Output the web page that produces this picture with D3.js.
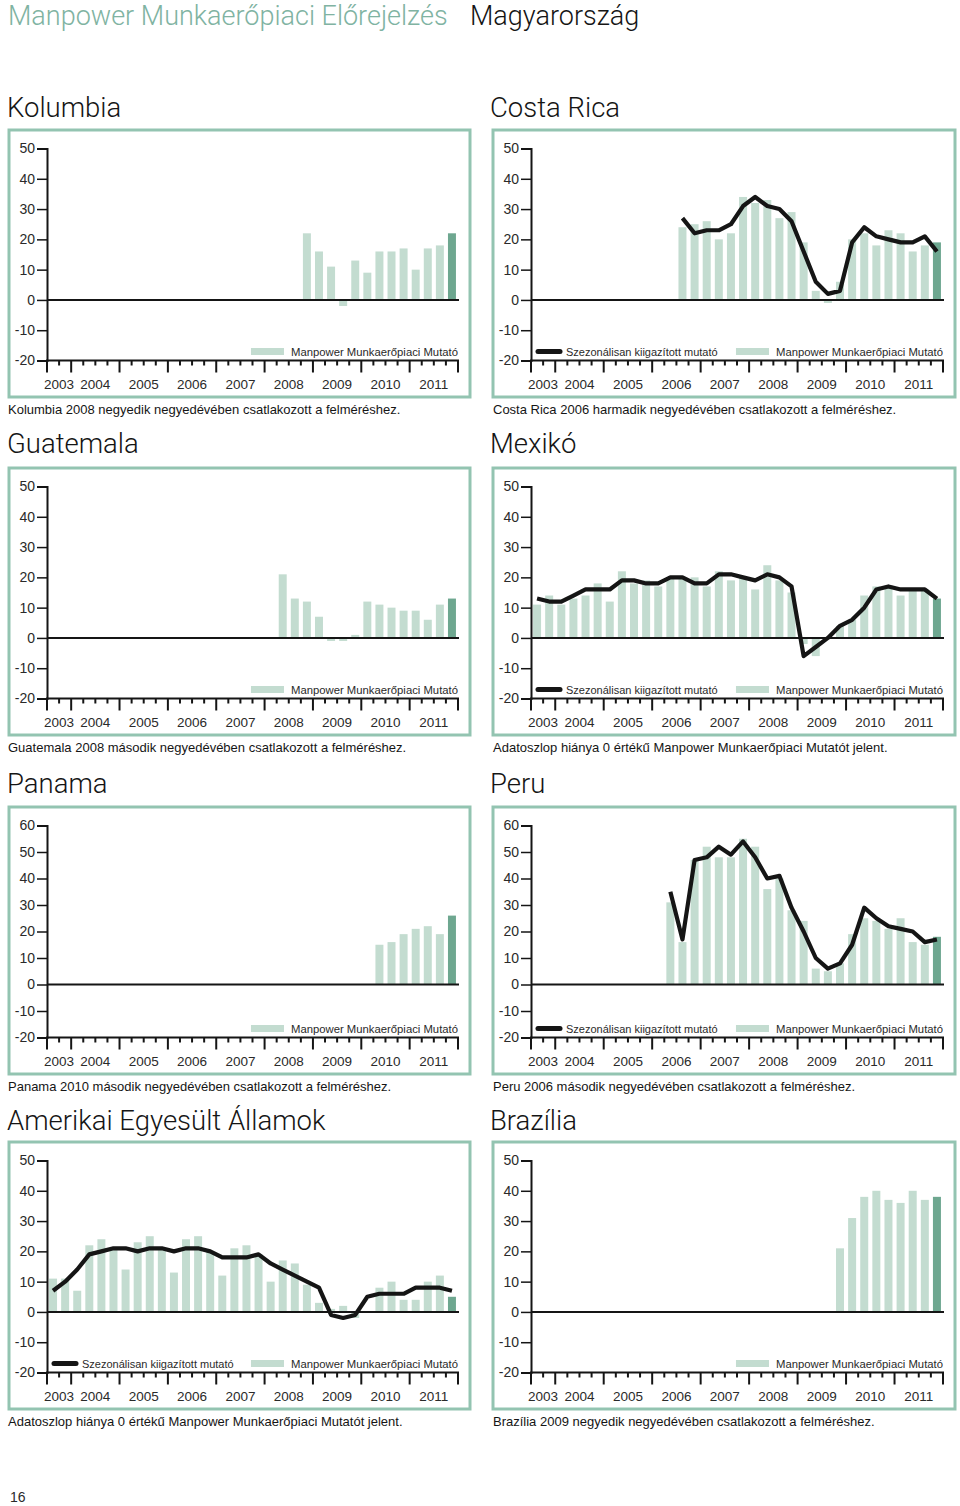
<!DOCTYPE html>
<html><head><meta charset="utf-8">
<script src="https://cdn.jsdelivr.net/npm/d3@7"></script>
<style>
body{margin:0;background:#fff;}
svg{display:block;}
</style></head><body>
<svg id="c" width="960" height="1506"></svg>
<script>
// ---------- DATA ----------
// 34 quarters: 2003 Q3 ... 2011 Q4
const quarters = ["2003Q3","2003Q4",
 "2004Q1","2004Q2","2004Q3","2004Q4","2005Q1","2005Q2","2005Q3","2005Q4",
 "2006Q1","2006Q2","2006Q3","2006Q4","2007Q1","2007Q2","2007Q3","2007Q4",
 "2008Q1","2008Q2","2008Q3","2008Q4","2009Q1","2009Q2","2009Q3","2009Q4",
 "2010Q1","2010Q2","2010Q3","2010Q4","2011Q1","2011Q2","2011Q3","2011Q4"];
const yearLabels = ["2003","2004","2005","2006","2007","2008","2009","2010","2011"];
const yTicks50 = [50,40,30,20,10,0,-10,-20];
const yTicks60 = [60,50,40,30,20,10,0,-10,-20];
const N = null;

const kolumbiaBars = [N,N,N,N,N,N,N,N,N,N,N,N,N,N,N,N,N,N,N,N,N,
  22,16,11,-2,13,9,16,16,17,10,17,18,22];
const costaRicaBars = [N,N,N,N,N,N,N,N,N,N,N,N,
  24,25,26,20,22,34,32,33,27,29,19,3,-1,6,20,22,18,23,22,16,18,19];
const costaRicaLine = [N,N,N,N,N,N,N,N,N,N,N,N,
  27,22,23,23,25,31,34,31,30,26,16,6,2,3,19,24,21,20,19,19,21,16];
const guatemalaBars = [N,N,N,N,N,N,N,N,N,N,N,N,N,N,N,N,N,N,N,
  21,13,12,7,-1,-1,1,12,11,10,9,9,6,11,13];
const mexikoBars = [11,14,11,13,14,18,12,22,18,19,17,20,20,20,17,22,19,20,16,24,19,15,
  -2,-6,0,4,6,14,17,17,14,16,16,13];
const mexikoLine = [13,12,12,14,16,16,16,19,19,18,18,20,20,18,18,21,21,20,19,21,20,17,
  -6,-3,0,4,6,10,16,17,16,16,16,13];
const panamaBars = [N,N,N,N,N,N,N,N,N,N,N,N,N,N,N,N,N,N,N,N,N,N,N,N,N,N,N,
  15,16,19,21,22,19,26];
const peruBars = [N,N,N,N,N,N,N,N,N,N,N,
  31,16,47,52,48,48,55,52,36,40,28,24,6,5,8,19,25,24,21,25,16,15,18];
const peruLine = [N,N,N,N,N,N,N,N,N,N,N,
  35,17,47,48,52,49,54,48,40,41,29,20,10,6,8,15,29,25,22,21,20,16,17];
const usaBars = [11,11,7,22,24,21,14,23,25,21,13,24,25,20,12,21,22,19,10,17,16,9,
  3,1,2,-2,0,8,10,4,4,10,12,5];
const usaLine = [7,10,14,19,20,21,21,20,21,21,20,21,21,20,18,18,18,19,16,14,12,10,
  8,-1,-2,-1,5,6,6,6,8,8,8,7];
const braziliaBars = [N,N,N,N,N,N,N,N,N,N,N,N,N,N,N,N,N,N,N,N,N,N,N,N,N,
  21,31,38,40,37,36,40,37,38];

const panels = [
  {title:"Kolumbia", note:"Kolumbia 2008 negyedik negyedévében csatlakozott a felméréshez.", bars:kolumbiaBars, line:null, ticks:yTicks50, col:0, row:0},
  {title:"Costa Rica", note:"Costa Rica 2006 harmadik negyedévében csatlakozott a felméréshez.", bars:costaRicaBars, line:costaRicaLine, ticks:yTicks50, col:1, row:0},
  {title:"Guatemala", note:"Guatemala 2008 második negyedévében csatlakozott a felméréshez.", bars:guatemalaBars, line:null, ticks:yTicks50, col:0, row:1},
  {title:"Mexikó", note:"Adatoszlop hiánya 0 értékű Manpower Munkaerőpiaci Mutatót jelent.", bars:mexikoBars, line:mexikoLine, ticks:yTicks50, col:1, row:1},
  {title:"Panama", note:"Panama 2010 második negyedévében csatlakozott a felméréshez.", bars:panamaBars, line:null, ticks:yTicks60, col:0, row:2},
  {title:"Peru", note:"Peru 2006 második negyedévében csatlakozott a felméréshez.", bars:peruBars, line:peruLine, ticks:yTicks60, col:1, row:2},
  {title:"Amerikai Egyesült Államok", note:"Adatoszlop hiánya 0 értékű Manpower Munkaerőpiaci Mutatót jelent.", bars:usaBars, line:usaLine, ticks:yTicks50, col:0, row:3},
  {title:"Brazília", note:"Brazília 2009 negyedik negyedévében csatlakozott a felméréshez.", bars:braziliaBars, line:null, ticks:yTicks50, col:1, row:3}
];
const legendBar = "Manpower Munkaerőpiaci Mutató";
const legendLine = "Szezonálisan kiigazított mutató";

// ---------- STYLE / LAYOUT ----------
const C = {light:"#c3dcd0", dark:"#6ea790", frame:"#93c4b1", head:"#80b3a2", ink:"#151515", text:"#2a2a2a"};
const BODY = "'Liberation Sans', Arial, Helvetica, sans-serif";
const LIGHT = "Roboto, 'Liberation Sans', sans-serif";
const cols = [{fx:9, fw:461, a0:47, a1:458, tx:7, nx:8}, {fx:493, fw:462, a0:531, a1:943, tx:490, nx:493}];
const rows = [{top:130, tb:117}, {top:468, tb:453}, {top:807, tb:793}, {top:1142, tb:1130}];
const FH = 267;

const svg = d3.select("#c");
svg.append("rect").attr("width",960).attr("height",1506).attr("fill","#fff");

svg.append("text").attr("x",8).attr("y",25).attr("font-family",LIGHT).attr("font-weight",300)
  .attr("font-size",27).attr("fill",C.head).text("Manpower Munkaerőpiaci Előrejelzés");
svg.append("text").attr("x",470).attr("y",25).attr("font-family",LIGHT).attr("font-weight",300)
  .attr("font-size",27).attr("fill",C.ink).text("Magyarország");
svg.append("text").attr("x",10).attr("y",1502).attr("font-family",BODY)
  .attr("font-size",14).attr("fill",C.text).text("16");

const yearStart = quarters.map((q,i)=> (i===0 || q.endsWith("Q1")) ? i : -1).filter(i=>i>=0);

panels.forEach(p => {
  const c = cols[p.col], r = rows[p.row];
  const g = svg.append("g");
  // title
  g.append("text").attr("x",c.tx).attr("y",r.tb).attr("font-family",LIGHT).attr("font-weight",300)
    .attr("font-size",27.5).attr("fill",C.ink).text(p.title);
  // frame
  g.append("rect").attr("x",c.fx).attr("y",r.top).attr("width",c.fw).attr("height",FH)
    .attr("fill","none").attr("stroke",C.frame).attr("stroke-width",3);
  // footnote
  g.append("text").attr("x",c.nx).attr("y",r.top+FH+17).attr("font-family",BODY)
    .attr("font-size",13).attr("fill",C.ink).text(p.note);

  const yMax = p.ticks[0];
  const y = d3.scaleLinear().domain([-20,yMax]).range([r.top+230.5, r.top+18.5]);
  const xb = d3.scaleBand().domain(d3.range(quarters.length)).range([c.a0,c.a1])
    .paddingInner(0.34).paddingOuter(0.17);
  const xq = d3.scaleLinear().domain([0,quarters.length]).range([c.a0,c.a1]);

  // bars
  const bd = p.bars.map((v,i)=>({v,i})).filter(d=>d.v!==null && d.v!==0);
  g.selectAll(".bar").data(bd).join("rect")
    .attr("x",d=>xb(d.i)).attr("width",xb.bandwidth())
    .attr("y",d=>y(Math.max(0,d.v))).attr("height",d=>Math.abs(y(d.v)-y(0)))
    .attr("fill",d=>d.i===quarters.length-1 ? C.dark : C.light);

  // y axis
  const ya = d3.axisLeft(y).tickValues(p.ticks).tickSize(10).tickPadding(2).tickFormat(d=>String(d));
  const yg = g.append("g").attr("transform",`translate(${c.a0},0)`).call(ya);
  yg.select(".domain").attr("stroke",C.ink).attr("stroke-width",2);
  yg.selectAll(".tick line").attr("stroke",C.ink).attr("stroke-width",1.5);
  yg.selectAll(".tick text").attr("font-family",BODY).attr("font-size",14).attr("fill",C.text);

  // zero line and bottom axis line
  g.append("line").attr("x1",c.a0).attr("x2",c.a1+1).attr("y1",y(0)).attr("y2",y(0))
    .attr("stroke",C.ink).attr("stroke-width",2);
  g.append("line").attr("x1",c.a0-1).attr("x2",c.a1+1).attr("y1",y(-20)).attr("y2",y(-20))
    .attr("stroke",C.ink).attr("stroke-width",2);
  // quarter ticks
  const tickIdx = d3.range(quarters.length+1);
  g.selectAll(".qt").data(tickIdx).join("line")
    .attr("x1",d=>xq(d)).attr("x2",d=>xq(d)).attr("y1",y(-20))
    .attr("y2",d=> (yearStart.includes(d) || d===quarters.length) ? y(-20)+12 : y(-20)+5)
    .attr("stroke",C.ink).attr("stroke-width",2);
  // year labels
  g.selectAll(".yl").data(yearLabels).join("text")
    .attr("x",(d,k)=> (xq(yearStart[k]) + xq(k+1<yearStart.length ? yearStart[k+1] : quarters.length))/2)
    .attr("y",y(-20)+28).attr("text-anchor","middle").attr("font-family",BODY)
    .attr("font-size",13.5).attr("fill",C.text).text(d=>d);

  // line
  if (p.line) {
    const ln = d3.line().defined(d=>d!==null).x((d,i)=>xb(i)+xb.bandwidth()/2).y(d=>y(d));
    g.append("path").datum(p.line).attr("d",ln).attr("fill","none").attr("stroke",C.ink)
      .attr("stroke-width",4.2).attr("stroke-linejoin","round").attr("stroke-linecap","butt");
  }

  // legend
  const ly = y(-20) - 9;
  const lt = g.append("text").attr("x",c.a1).attr("y",ly+4).attr("text-anchor","end")
    .attr("font-family",BODY).attr("font-size",11.3).attr("fill",C.text).text(legendBar);
  const tw = lt.node().getComputedTextLength();
  g.append("rect").attr("x",c.a1-tw-7-33).attr("y",ly-3.5).attr("width",33).attr("height",7).attr("fill",C.light);
  if (p.line) {
    g.append("line").attr("x1",c.a0+7).attr("x2",c.a0+29).attr("y1",ly).attr("y2",ly)
      .attr("stroke",C.ink).attr("stroke-width",5).attr("stroke-linecap","round");
    g.append("text").attr("x",c.a0+35).attr("y",ly+4).attr("font-family",BODY)
      .attr("font-size",11).attr("fill",C.text).text(legendLine);
  }
});
</script>
</body></html>
